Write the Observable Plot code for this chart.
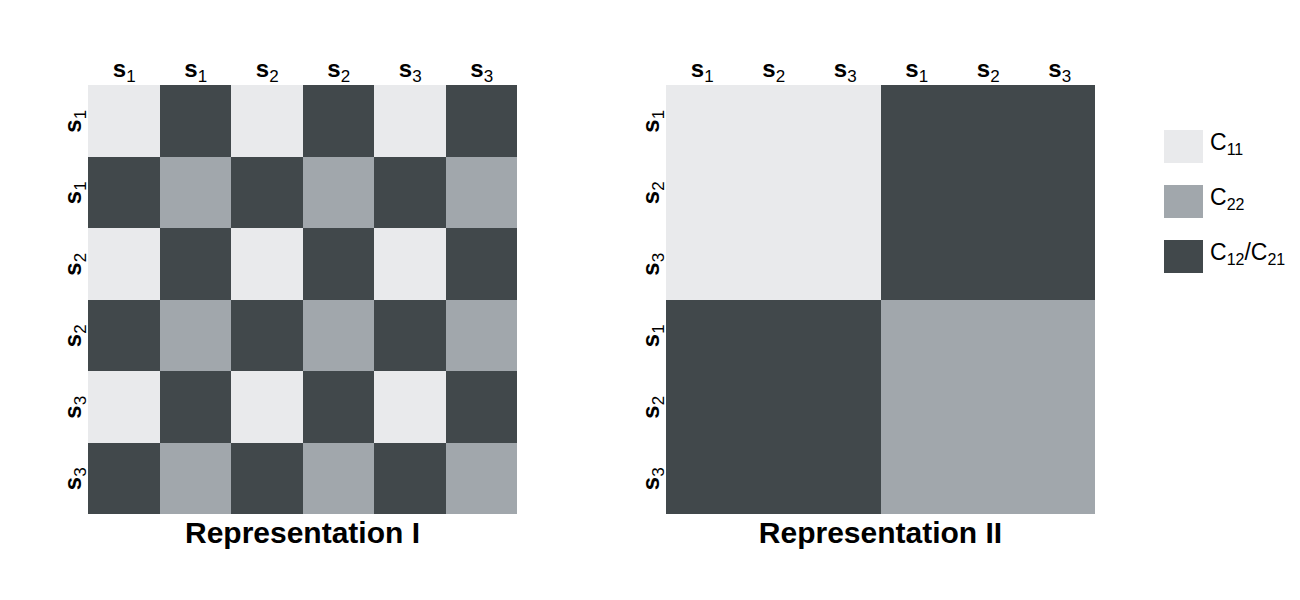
<!DOCTYPE html>
<html><head><meta charset="utf-8">
<script src="https://cdn.jsdelivr.net/npm/d3@7"></script>
<script src="https://cdn.jsdelivr.net/npm/@observablehq/plot@0.6"></script>
<style>
body{margin:0;background:#fff;font-family:"Liberation Sans",Arial,sans-serif;}
#wrap{position:relative;width:1300px;height:600px;overflow:hidden;}
.panel{position:absolute;top:0;}
.title{position:absolute;top:518px;font-weight:bold;font-size:30px;line-height:1;text-align:center;width:429px;color:#000;}
.leg{position:absolute;left:1164px;display:flex;align-items:center;}
.sw{width:39px;height:33px;}
.lt{margin-left:7px;font-size:23px;line-height:1;margin-top:-4px;}
.lt sub{font-size:16px;vertical-align:-5px;}
</style>
</head><body>
<div id="wrap"></div>
<script>
// Tick label subscripts
const labelsI = ["1","1","2","2","3","3"];
const labelsII = ["1","2","3","1","2","3"];
// Cell categories, rows top to bottom
const matrixI = [
  ["C11","C12","C11","C12","C11","C12"],
  ["C12","C22","C12","C22","C12","C22"],
  ["C11","C12","C11","C12","C11","C12"],
  ["C12","C22","C12","C22","C12","C22"],
  ["C11","C12","C11","C12","C11","C12"],
  ["C12","C22","C12","C22","C12","C22"]
];
const matrixII = [
  ["C11","C11","C11","C12","C12","C12"],
  ["C11","C11","C11","C12","C12","C12"],
  ["C11","C11","C11","C12","C12","C12"],
  ["C12","C12","C12","C22","C22","C22"],
  ["C12","C12","C12","C22","C22","C22"],
  ["C12","C12","C12","C22","C22","C22"]
];
const titles = ["Representation I", "Representation II"];
const categories = ["C11","C22","C12"];
const legendLabels = ["C<sub>11</sub>","C<sub>22</sub>","C<sub>12</sub>/C<sub>21</sub>"];
const colors = ["#e9eaec","#a1a7ac","#41484b"];

const wrap = document.getElementById("wrap");
const idx = d3.range(6);

function subText(sel, subs) {
  sel.each(function(d, i) {
    const t = d3.select(this);
    t.text(null);
    t.append("tspan").attr("font-weight", "bold").attr("font-size", 24).text("s");
    t.append("tspan").attr("font-size", 17).attr("dy", 5).text(subs[i]);
  });
}

function panel(matrix, labels, left, title) {
  const data = [];
  matrix.forEach((row, r) => row.forEach((v, c) => data.push({row: r, col: c, type: v})));
  const svg = Plot.plot({
    width: 540, height: 530,
    marginLeft: 88, marginTop: 85, marginRight: 23, marginBottom: 16,
    style: {fontFamily: "Liberation Sans, Arial, sans-serif", fontSize: "22px", color: "#000", background: "transparent"},
    x: {domain: idx, padding: 0, round: false, axis: null},
    y: {domain: idx, padding: 0, round: false, axis: null},
    color: {domain: categories, range: colors},
    marks: [
      Plot.cell(data, {x: "col", y: "row", fill: "type", inset: 0, shapeRendering: "crispEdges"}),
      Plot.axisX({anchor: "top", tickSize: 0, tickPadding: 9, tickFormat: i => "s" + labels[i], label: null}),
      Plot.axisY({anchor: "left", tickSize: 0, tickPadding: 8, tickRotate: -90, tickFormat: i => "s" + labels[i], label: null})
    ]
  });
  svg.classList.add("panel");
  svg.style.left = left + "px";
  wrap.appendChild(svg);
  subText(d3.select(svg).selectAll("g[aria-label='x-axis tick label'] text"), labels);
  subText(d3.select(svg).selectAll("g[aria-label='y-axis tick label'] text"), labels);
  const t = document.createElement("div");
  t.className = "title";
  t.style.left = (left + 88) + "px";
  t.textContent = title;
  wrap.appendChild(t);
}

panel(matrixI, labelsI, 0, titles[0]);
panel(matrixII, labelsII, 578, titles[1]);

categories.forEach((c, i) => {
  const d = document.createElement("div");
  d.className = "leg";
  d.style.top = (130 + i * 55) + "px";
  d.innerHTML = `<div class="sw" style="background:${colors[i]}"></div><div class="lt">${legendLabels[i]}</div>`;
  wrap.appendChild(d);
});
</script>
</body></html>
